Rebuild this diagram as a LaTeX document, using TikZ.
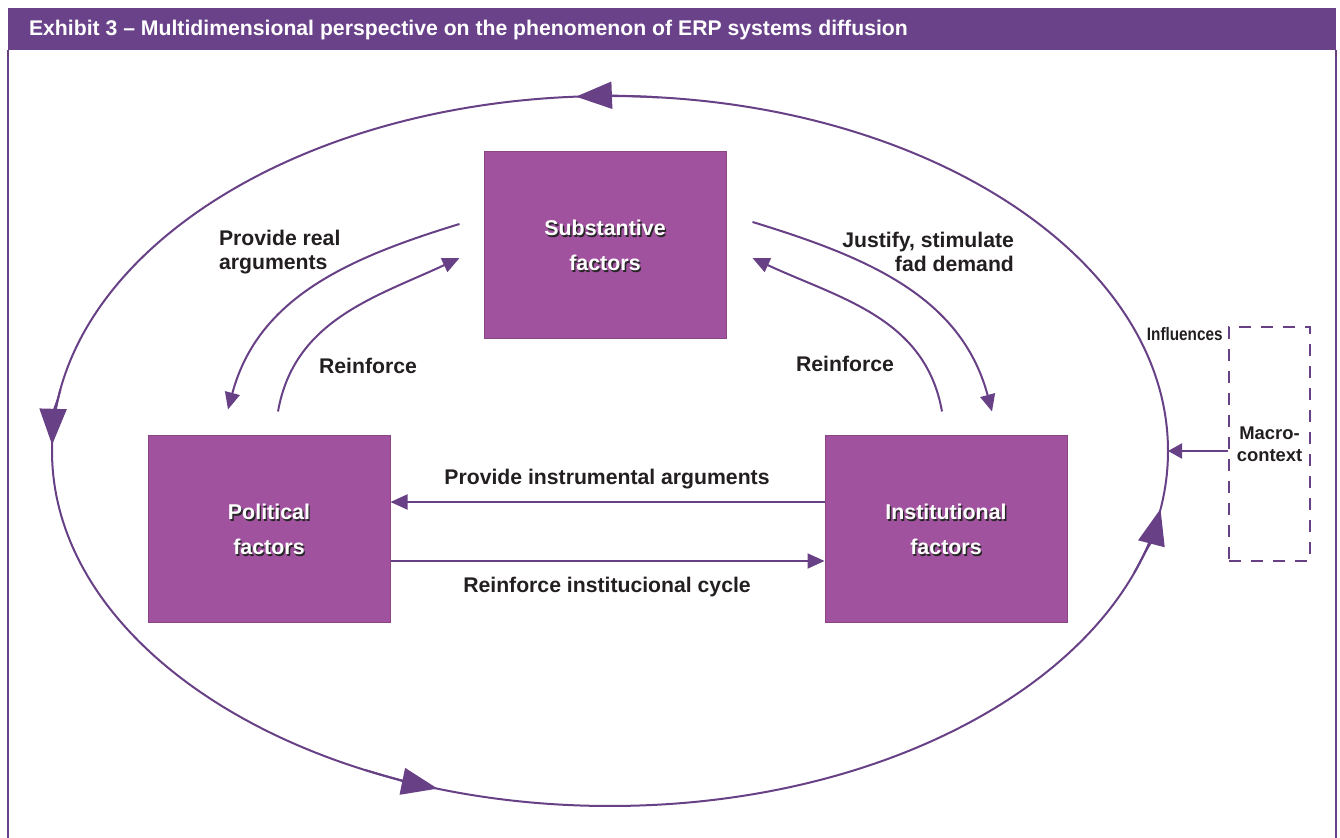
\documentclass[tikz,border=0pt]{standalone}
\usepackage{fontspec}
\setmainfont{Liberation Sans}
\usetikzlibrary{arrows.meta,positioning}

\definecolor{erpHead}{HTML}{69428A}
\definecolor{erpLine}{HTML}{674086}
\definecolor{erpBox}{HTML}{A0529E}
\definecolor{erpText}{HTML}{231F20}

\begin{document}
\begin{tikzpicture}[x=0.5pt,y=0.5pt,
  every node/.style={font=\bfseries\fontsize{10.6}{12}\selectfont,text=erpText},
  factor/.style={fill=erpBox,draw=erpBox!85!black,line width=0.5pt,minimum width=121pt,minimum height=93.5pt,inner sep=0pt},
  factor txt/.style={text=white,align=center,font=\bfseries\fontsize{10.7}{17.5}\selectfont},
  factor shade/.style={text=black!85,align=center,font=\bfseries\fontsize{10.7}{17.5}\selectfont},
  ring/.style={draw=erpLine,line width=1pt},
  conn/.style={draw=erpLine,line width=1pt,-{Triangle[length=8.5pt,width=7.5pt]}},
  bigtip/.style={draw=erpLine,fill=erpLine,line width=1pt,-{Triangle[length=18pt,width=13.5pt]}},
  macrobox/.style={draw=erpLine,line width=1.3pt,dash pattern=on 6pt off 5pt,minimum width=40.5pt,minimum height=117pt,align=center,font=\bfseries\fontsize{9.2}{11}\selectfont}
]
\useasboundingbox (0,0) rectangle (1340,-838);

% frame and title bar
\fill[erpHead] (8,-8) rectangle (1336,-50);
\draw[erpLine,line width=0.6pt] (8,-50) -- (8,-838) (1336,-50) -- (1336,-838);
\node[anchor=west,text=white] (title) at (22,-30) {Exhibit 3 -- Multidimensional perspective on the phenomenon of ERP systems diffusion};

% the outer cycle
\coordinate (c) at (610,-451);
\draw[ring] (c) ellipse [x radius=279pt, y radius=177.5pt];
\foreach \a/\b in {85/93.5, 170/179, 244/252, -20/-9.4}
  \draw[bigtip] ([shift={(\a:279pt and 177.5pt)}]c) arc[start angle=\a, end angle=\b, x radius=279pt, y radius=177.5pt];

% factors
\node[factor] (subst) at (605,-245.5) {};
\node[factor] (pol) at (269,-529.5) {};
\node[factor] (inst) at (946,-529.5) {};

\node[factor shade] at ([shift={(0.7pt,-0.7pt)}]subst) {Substantive\\factors};
\node[factor txt] (subst-t) at (subst) {Substantive\\factors};
\node[factor shade] at ([shift={(0.7pt,-0.7pt)}]pol) {Political\\factors};
\node[factor txt] (pol-t) at (pol) {Political\\factors};
\node[factor shade] at ([shift={(0.7pt,-0.7pt)}]inst) {Institutional\\factors};
\node[factor txt] (inst-t) at (inst) {Institutional\\factors};

% curved links
\draw[conn] ([shift={(-12pt,10.75pt)}]subst.west) to[out=197,in=75] ([shift={(-20.5pt,13pt)}]pol.north);
\draw[conn] ([shift={(4.5pt,12pt)}]pol.north) to[out=80,in=205] ([shift={(-12pt,-6.25pt)}]subst.west);
\draw[conn] ([shift={(13pt,11.75pt)}]subst.east) to[out=-17,in=105] ([shift={(23pt,12pt)}]inst.north);
\draw[conn] ([shift={(-2pt,12pt)}]inst.north) to[out=100,in=-25] ([shift={(13pt,-6.25pt)}]subst.east);

\node[anchor=west,align=left] (realarg) at (212,-252) {Provide real\\arguments};
\node (reinfL) at (368,-366) {Reinforce};
\node[anchor=east,align=right] (fad) at (1021,-252) {Justify, stimulate\\fad demand};
\node (reinfR) at (845,-364) {Reinforce};

% straight links
\coordinate (upper) at (0,-502);
\coordinate (lower) at (0,-561);
\draw[conn] (inst.west |- upper) -- (pol.east |- upper);
\draw[conn] (pol.east |- lower) -- (inst.west |- lower);
\node (instarg) at (607,-479) {Provide instrumental arguments};
\node (cycle) at (607,-587) {Reinforce institucional cycle};

% macro-context
\node[macrobox] (macro) at (1269.5,-444) {Macro-\\context};
\coordinate (ringE) at (1168,-451);
\draw[draw=erpLine,line width=1pt,-{Triangle[length=7pt,width=7.5pt]}] (macro.west |- ringE) -- (ringE);
\node[anchor=east,inner sep=0pt] (infl) at (1223,-334) {\fontsize{9}{11}\selectfont\scalebox{0.85}[1]{Influences}};
\end{tikzpicture}
\end{document}
